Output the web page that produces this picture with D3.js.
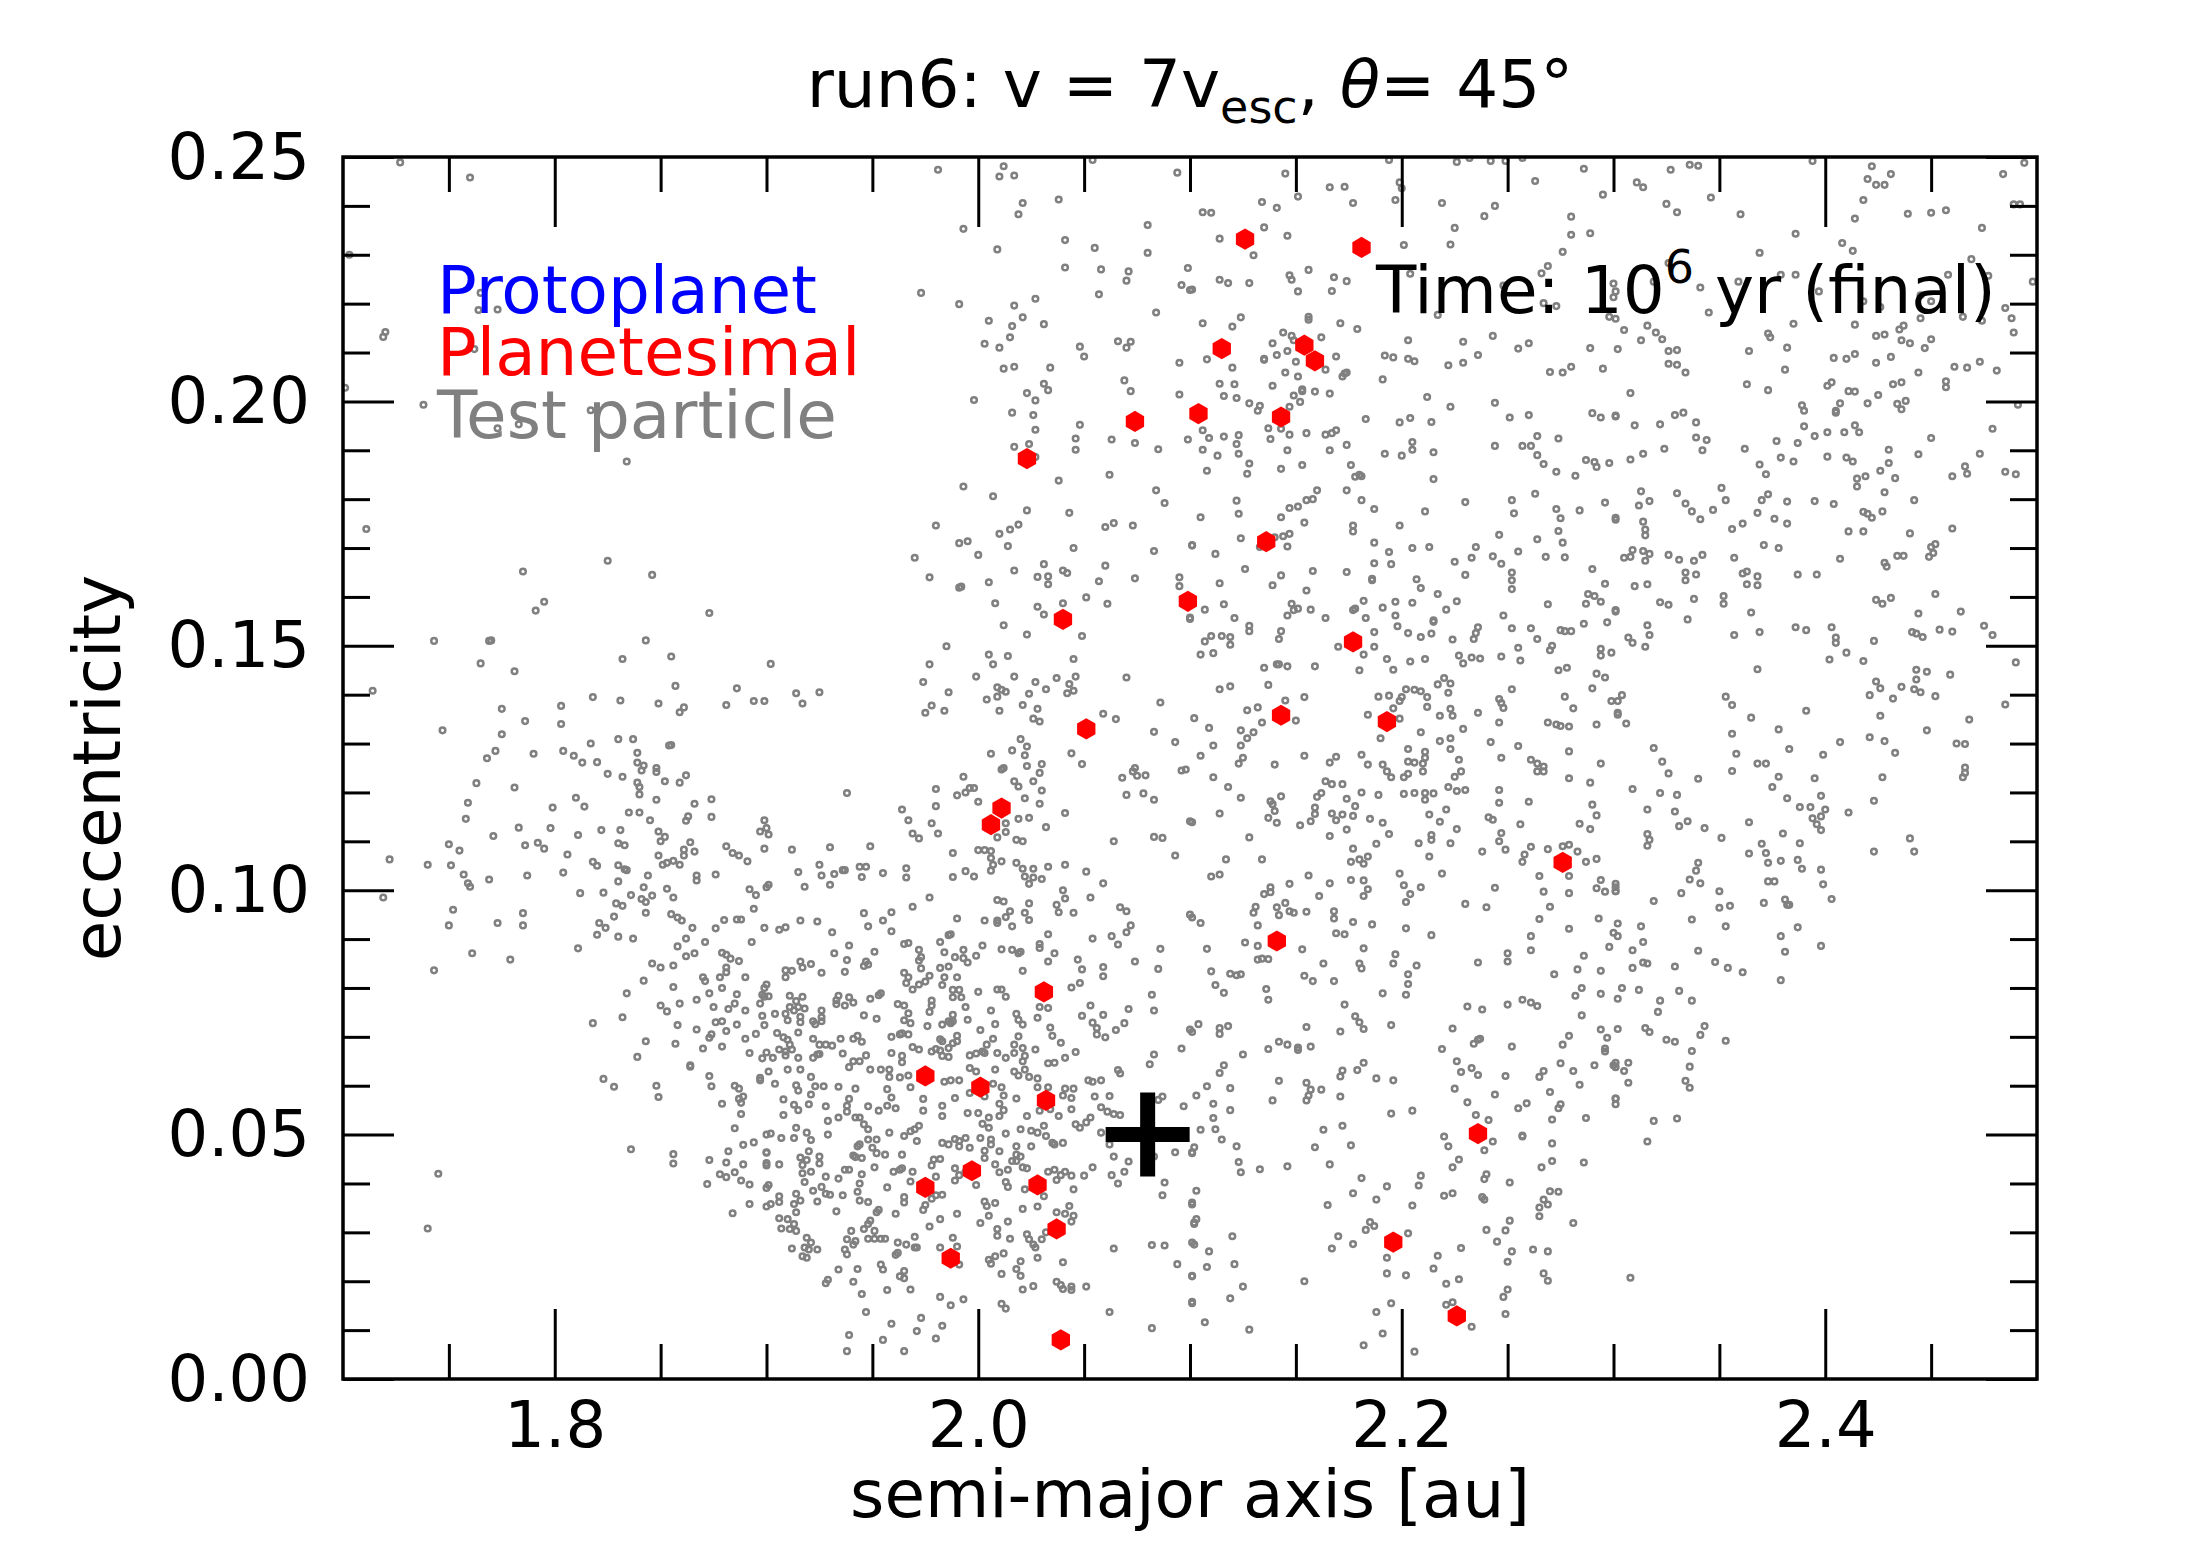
<!DOCTYPE html>
<html>
<head>
<meta charset="utf-8">
<script src="https://cdn.jsdelivr.net/npm/d3@7"></script>
<style>
  body { margin: 0; background: #fff; }
  text { font-family: "DejaVu Sans", sans-serif; }
</style>
</head>
<body>
<div id="chart"></div>
<script>
// ---- data: [semi-major axis (au), eccentricity] ----
var xMajorTicks = [1.8, 2.0, 2.2, 2.4];
var xMinorTicks = [1.75, 1.85, 1.9, 1.95, 2.05, 2.1, 2.15, 2.25, 2.3, 2.35, 2.45];
var yMajorTicks = [0, 0.05, 0.10, 0.15, 0.20, 0.25];
var yMinorTicks = [0.01, 0.02, 0.03, 0.04, 0.06, 0.07, 0.08, 0.09, 0.11, 0.12, 0.13, 0.14,
                   0.16, 0.17, 0.18, 0.19, 0.21, 0.22, 0.23, 0.24];

var legendLabels = ["Protoplanet", "Planetesimal", "Test particle"];

var protoplanets = [[2.08, 0.05]];

var planetesimals = [[2.126,.2332],[2.181,.2315],[2.115,.2108],[2.154,.2115],[2.159,.2083],[2.104,.1975],[2.143,.1968],[2.074,.1959],[2.023,.1883],[2.136,.1713],[2.099,.1591],[2.040,.1554],[2.177,.1508],[2.143,.1358],[2.193,.1345],[2.051,.1330],[2.011,.1168],[2.006,.1134],[2.276,.1057],[2.141,.0896],[2.031,.0792],[1.975,.0620],[2.001,.0597],[2.032,.0570],[2.236,.0502],[1.997,.0426],[1.975,.0392],[2.028,.0397],[2.037,.0307],[1.987,.0247],[2.196,.0280],[2.226,.0129],[2.039,.0080]];

var tpLeftHigh = [[1.727,.2489],[1.760,.2458],[1.703,.230],[1.765,.2222],[1.764,.2187],[1.773,.2188],[1.720,.2142],[1.719,.2132],[1.762,.2107],[1.701,.2028],[1.738,.1993],[1.817,.1982],[1.773,.1945],[1.783,.1953],[1.834,.1877],[1.711,.1739],[1.825,.1674],[1.785,.1652],[1.846,.1645],[1.795,.1590],[1.791,.1572],[1.873,.1567],[1.743,.1510],[1.769,.1510],[1.770,.1511],[1.843,.1511],[1.832,.1473],[1.855,.1478],[1.765,.1464],[1.781,.1448],[1.714,.1408],[1.857,.1418],[1.886,.1413],[1.818,.1395],[1.831,.1388],[1.849,.1382],[1.803,.1377],[1.775,.1371],[1.861,.1374],[1.859,.1364],[1.881,.1379],[1.894,.1387],[1.899,.1387],[1.786,.1346],[1.803,.1340],[1.747,.1327],[1.775,.1319],[1.817,.1300],[1.830,.1309],[1.837,.1309],[1.854,.1296],[1.855,.1297],[1.772,.1285],[1.768,.1270],[1.790,.1279],[1.804,.1285],[1.809,.1275],[1.813,.1261],[1.820,.1262],[1.839,.1281],[1.839,.1261],[1.842,.1255],[1.848,.1250]];

var tpLeftLow = [[1.825,.1238],[1.832,.1232],[1.841,.1245],[1.848,.1242],[1.852,.1223],[1.859,.1220],[1.862,.1235],[1.839,.1220],[1.840,.1211],[1.840,.1196],[1.763,.1219],[1.781,.1210],[1.759,.1179],[1.758,.1146],[1.799,.1169],[1.810,.1189],[1.814,.1171],[1.848,.1185],[1.866,.1177],[1.874,.1186],[1.874,.1150],[1.835,.1159],[1.840,.1159],[1.845,.1143],[1.862,.1142],[1.863,.1151],[1.899,.1143],[1.897,.1120],[1.771,.1111],[1.783,.1128],[1.798,.1127],[1.811,.1113],[1.822,.1123],[1.831,.1123],[1.849,.1120],[1.852,.1109],[1.850,.1100],[1.864,.1098],[1.750,.1094],[1.755,.1081],[1.786,.1092],[1.792,.1097],[1.795,.1085],[1.830,.1096],[1.833,.1092],[1.881,.1090],[1.884,.1076],[1.887,.1071],[1.891,.1059],[1.899,.1085],[1.861,.1083],[1.866,.1079],[1.861,.1071],[1.722,.1063],[1.740,.1052],[1.751,.1051],[1.806,.1073],[1.818,.1058],[1.820,.1050],[1.830,.1051],[1.833,.1043],[1.834,.1041],[1.849,.1071],[1.851,.1052],[1.853,.1056],[1.856,.1060],[1.859,.1052],[1.757,.1032],[1.759,.1014],[1.760,.1007],[1.769,.1022],[1.787,.1030],[1.804,.1036],[1.844,.1030],[1.867,.1030],[1.867,.1020],[1.876,.1032],[1.830,.1018],[1.719,.0985],[1.812,.0994],[1.823,.0995],[1.842,.1006],[1.836,.0990],[1.841,.0982],[1.843,.0976],[1.846,.0989],[1.853,.1003],[1.856,.0985],[1.892,.1002],[1.895,.0990],[1.900,.1006],[1.752,.0960],[1.750,.0928],[1.773,.0933],[1.785,.0953],[1.785,.0928],[1.829,.0973],[1.832,.0968],[1.843,.0954],[1.828,.0946],[1.821,.0933],[1.824,.0923],[1.820,.0909],[1.830,.0905],[1.837,.0901],[1.855,.0951],[1.858,.0944],[1.860,.0938],[1.865,.0923],[1.876,.0922],[1.880,.0939],[1.886,.0940],[1.888,.0940],[1.894,.0962],[1.899,.0923],[1.893,.0894],[1.871,.0894],[1.862,.0901],[1.858,.0885],[1.761,.0871],[1.779,.0858],[1.743,.0836],[1.811,.0881],[1.862,.0865],[1.866,.0871],[1.846,.0850],[1.850,.0842],[1.856,.0846],[1.879,.0872],[1.881,.0868],[1.883,.0860],[1.887,.0855],[1.881,.0842],[1.881,.0832],[1.878,.0822],[1.890,.0822],[1.870,.0822],[1.871,.0814],[1.842,.0815],[1.856,.0802],[1.834,.0789],[1.873,.0789],[1.879,.0800],[1.886,.0787],[1.899,.0800],[1.898,.0786],[1.899,.0782],[1.867,.0776],[1.850,.0764],[1.853,.0752],[1.859,.0768],[1.875,.0761],[1.882,.0757],[1.885,.0768],[1.890,.0754],[1.897,.0768],[1.898,.0743],[1.818,.0728],[1.832,.0740],[1.858,.0724],[1.867,.0715],[1.876,.0730],[1.879,.0732],[1.881,.0712],[1.886,.0725],[1.899,.0724],[1.873,.0698],[1.874,.0705],[1.895,.0706],[1.890,.0696],[1.843,.0691],[1.857,.0686],[1.870,.0676],[1.879,.0680],[1.892,.0667],[1.898,.0656],[1.900,.0668],[1.839,.0659],[1.864,.0642],[1.864,.0639],[1.873,.0620],[1.874,.0599],[1.897,.0616],[1.897,.0611],[1.823,.0614],[1.828,.0598],[1.848,.0600],[1.849,.0577],[1.885,.0600],[1.887,.0594],[1.889,.0578],[1.887,.0573],[1.888,.0565],[1.879,.0563],[1.888,.0542],[1.885,.0513],[1.836,.0470],[1.856,.0460],[1.856,.0441],[1.873,.0448],[1.882,.0466],[1.889,.0479],[1.894,.0484],[1.881,.0443],[1.889,.0439],[1.900,.0463],[1.900,.0437],[1.878,.0419],[1.881,.0413],[1.885,.0423],[1.888,.0406],[1.892,.0398],[1.872,.0399],[1.900,.0391],[1.892,.0358],[1.884,.0339],[1.900,.0353],[1.745,.0420],[1.740,.0308]];

var tpMidHigh = [[1.981,.2474],[2.012,.2481],[2.010,.2460],[2.017,.2462],[2.054,.2494],[2.094,.2468],[2.021,.2406],[2.019,.2383],[2.038,.2413],[1.993,.2353],[2.080,.2361],[2.009,.2311],[2.041,.2330],[2.055,.2314],[2.080,.2304],[2.041,.2274],[2.058,.2270],[2.071,.2266],[2.070,.2247],[2.099,.2273],[2.096,.2238],[2.100,.2228],[1.973,.2222],[1.991,.2199],[2.017,.2196],[2.027,.2210],[2.057,.2219],[2.084,.2182],[2.005,.2165],[2.021,.2172],[2.016,.2154],[2.015,.2131],[2.031,.2158],[2.003,.2118],[2.010,.2110],[2.048,.2112],[2.050,.2092],[2.066,.2123],[2.070,.2110],[2.072,.2122],[2.095,.2079],[2.012,.2067],[2.017,.2071],[2.034,.2069],[1.998,.2003],[2.023,.2017],[2.027,.2002],[2.031,.2036],[2.033,.2023],[2.069,.2043],[2.072,.2021],[2.095,.2014],[2.016,.1977],[2.026,.1972],[2.027,.1942],[2.048,.1952],[2.046,.1924],[2.046,.1901],[2.063,.1922],[2.074,.1915],[2.085,.1902],[2.099,.1922],[2.017,.1907],[2.024,.1913],[2.027,.1886],[1.993,.1826],[2.007,.1806],[2.038,.1838],[2.062,.1850],[2.084,.1818],[2.088,.1792],[2.023,.1777],[2.043,.1772],[1.980,.1746],[2.010,.1729],[2.015,.1738],[2.019,.1748],[2.060,.1743],[2.064,.1751],[2.073,.1746],[1.991,.1710],[1.995,.1714],[2.014,.1704],[2.045,.1700],[2.083,.1694],[2.101,.1705],[1.970,.1680],[2.000,.1686],[1.977,.1640],[1.991,.1619],[1.992,.1621],[2.005,.1630],[2.017,.1654],[2.031,.1667],[2.028,.1641],[2.033,.1642],[2.033,.1626],[2.040,.1654],[2.042,.1649],[2.060,.1664],[2.057,.1632],[2.074,.1638],[2.095,.1640],[2.095,.1622],[2.008,.1587],[2.028,.1580],[2.031,.1564],[2.040,.1587],[2.051,.1599],[2.061,.1586],[2.100,.1555],[2.012,.1542],[2.023,.1523],[2.049,.1520],[1.985,.1499],[1.977,.1462],[2.005,.1482],[2.007,.1462],[2.014,.1479],[2.045,.1473],[1.974,.1426],[1.986,.1405],[1.999,.1437],[2.017,.1437],[2.009,.1415],[2.011,.1410],[2.013,.1406],[2.009,.1396],[2.004,.1390],[2.027,.1426],[2.032,.1411],[2.037,.1434],[2.043,.1422],[2.046,.1437],[2.045,.1408],[2.042,.1403],[2.024,.1402],[2.021,.1379],[2.028,.1371],[2.026,.1351],[2.029,.1345],[2.010,.1367],[1.978,.1378],[1.975,.1363],[1.984,.1367],[2.059,.1361],[2.065,.1350],[2.070,.1435],[2.086,.1384],[2.083,.1324],[2.093,.1303],[2.020,.1309],[2.016,.1286],[2.022,.1276],[2.023,.1294],[2.006,.1279],[2.044,.1280],[2.049,.1258],[2.030,.1258],[2.012,.1250],[2.023,.1254],[2.074,.1250],[2.098,.1247],[1.902,.1463],[1.914,.1403],[1.917,.1382],[1.925,.1405]];

var tpMidUpper = [[1.993,.1232],[2.011,.1247],[2.029,.1240],[2.017,.1223],[2.019,.1212],[2.026,.1223],[2.030,.1204],[2.068,.1230],[2.073,.1243],[2.075,.1234],[2.079,.1235],[2.096,.1245],[1.980,.1207],[1.990,.1194],[1.994,.1200],[1.996,.1209],[1.998,.1209],[1.938,.1199],[2.000,.1181],[2.022,.1188],[2.029,.1177],[2.070,.1195],[2.078,.1198],[2.083,.1185],[1.980,.1172],[1.964,.1165],[1.967,.1143],[1.978,.1137],[1.981,.1116],[1.969,.1116],[1.972,.1106],[2.013,.1137],[2.013,.1119],[2.009,.1108],[2.019,.1146],[2.024,.1148],[2.032,.1129],[2.041,.1158],[2.018,.1103],[2.021,.1100],[2.064,.1100],[2.083,.1109],[2.087,.1107],[2.093,.1071],[2.100,.1141],[1.900,.1127],[1.901,.1114],[1.912,.1083],[1.930,.1088],[1.949,.1090],[1.988,.1076],[2.000,.1082],[2.003,.1082],[2.006,.1080],[2.006,.1066],[2.007,.1052],[2.006,.1040],[2.011,.1059],[2.018,.1056],[2.021,.1044],[2.026,.1044],[2.033,.1048],[2.041,.1052],[1.925,.1052],[1.915,.1037],[1.926,.1030],[1.932,.1033],[1.936,.1041],[1.937,.1041],[1.944,.1048],[1.947,.1048],[1.945,.1027],[1.955,.1035],[1.966,.1045],[1.966,.1026],[1.930,.1011],[1.918,.1007],[1.901,.1011],[1.988,.1027],[1.994,.1039],[1.998,.1028],[2.022,.1028],[2.026,.1026],[2.024,.1013],[2.030,.1023],[2.051,.1038],[2.059,.1014],[2.040,.1000],[2.041,.0983],[2.037,.0970],[2.038,.0955],[2.045,.0954],[2.053,.0985],[2.024,.0973],[2.022,.0954],[2.024,.0939],[2.009,.0980],[2.012,.0977],[2.015,.0957],[2.013,.0945],[2.009,.0938],[2.009,.0933],[2.016,.0926],[2.003,.0938],[1.990,.0942],[1.977,.0985],[1.969,.0966],[1.946,.0953],[1.959,.0955],[1.955,.0938],[1.948,.0926],[1.959,.0916],[1.916,.0938],[1.924,.0936],[1.906,.0919],[1.909,.0924],[1.931,.0914],[2.067,.0965],[2.070,.0957],[2.072,.0928],[2.070,.0914],[2.063,.0906],[2.066,.0889],[2.054,.0901],[2.100,.0950],[2.033,.0910],[2.029,.0890],[2.029,.0882],[2.011,.0879],[2.016,.0878],[2.019,.0871],[2.020,.0874],[2.036,.0871],[2.033,.0854],[2.047,.0858],[2.049,.0838],[2.059,.0843],[2.059,.0824],[2.074,.0854],[2.086,.0880],[2.085,.0839],[2.021,.0835],[2.048,.0810],[2.044,.0801],[2.082,.0786],[2.053,.0764],[2.071,.0757],[2.083,.0754],[2.049,.0743],[2.054,.0729],[2.056,.0718],[2.056,.0705],[2.059,.0745],[2.060,.0699],[2.065,.0714],[2.069,.0728],[2.100,.0715],[2.096,.0676],[2.083,.0664],[2.081,.0644],[2.066,.0632],[2.046,.0669],[2.039,.0688],[2.041,.0657],[2.036,.0647],[2.033,.0646],[2.027,.0674],[2.034,.0719],[2.035,.0702],[2.029,.0761],[2.033,.0759],[2.028,.0739],[2.018,.0747],[2.019,.0735],[2.021,.0725],[2.019,.0701],[2.017,.0684],[2.021,.0677],[2.022,.0661],[2.021,.0650],[2.013,.0657],[2.017,.0667],[2.009,.0797],[2.011,.0797],[2.013,.0782],[2.006,.0754],[2.008,.0726],[2.007,.0696],[2.001,.0714],[2.000,.0792],[2.004,.0684],[2.002,.0670],[2.003,.0667],[2.009,.0667],[1.996,.0662],[1.999,.0666],[1.996,.0636],[1.999,.0629],[2.008,.0633],[2.017,.0629],[2.022,.0633],[1.994,.0761],[1.995,.0735],[1.988,.0796],[1.991,.0796],[1.992,.0781],[1.988,.0781],[1.990,.0822],[1.988,.0745],[1.988,.0732],[1.986,.0732],[1.983,.0725],[1.987,.0728],[1.990,.0702],[1.988,.0687],[1.990,.0691],[1.983,.0691],[1.982,.0672],[1.986,.0677],[1.983,.0661],[1.978,.0670],[1.986,.0659],[1.999,.0866],[2.002,.0887],[1.993,.0878],[1.989,.0863],[1.993,.0861],[1.995,.0852],[1.984,.0873],[1.982,.0894],[1.986,.0908],[1.987,.0910],[1.982,.0841],[1.986,.0844],[1.984,.0822],[1.983,.0806],[1.977,.0825],[1.972,.0878],[1.973,.0863],[1.972,.0856],[1.973,.0840],[1.965,.0890],[1.967,.0892],[1.965,.0831],[1.967,.0822],[1.966,.0810],[1.969,.0797],[1.972,.0807],[1.975,.0813],[1.978,.0774],[1.978,.0764],[1.977,.0751],[1.962,.0767],[1.965,.0764],[1.967,.0748],[1.968,.0728],[1.965,.0734],[1.976,.0722],[1.964,.0707],[1.963,.0705],[1.967,.0705],[1.959,.0700],[1.969,.0679],[1.972,.0674],[1.959,.0667],[1.964,.0661],[1.964,.0648],[1.954,.0789],[1.953,.0785],[1.949,.0778],[1.951,.0874],[1.947,.0854],[1.948,.0848],[1.946,.0845],[1.938,.0857],[1.939,.0887],[1.932,.0871],[1.937,.0833],[1.916,.0854],[1.917,.0842],[1.921,.0849],[1.909,.0836],[1.912,.0835],[1.909,.0822],[1.926,.0831],[1.900,.0807],[1.901,.0783],[1.911,.0784],[1.914,.0773],[1.917,.0782],[1.934,.0784],[1.933,.0775],[1.933,.0767],[1.937,.0764],[1.939,.0781],[1.941,.0770],[1.904,.0747],[1.909,.0747],[1.911,.0761],[1.913,.0754],[1.915,.0761],[1.918,.0758],[1.910,.0734],[1.916,.0741],[1.916,.0730],[1.922,.0732],[1.923,.0726],[1.926,.0754],[1.926,.0740],[1.926,.0732],[1.946,.0744],[1.952,.0737],[1.905,.0708],[1.908,.0699],[1.910,.0694],[1.915,.0709],[1.922,.0696],[1.911,.0684],[1.912,.0674],[1.906,.0674],[1.909,.0670],[1.909,.0662],[1.925,.0684],[1.928,.0684],[1.931,.0682],[1.935,.0696],[1.941,.0696],[1.943,.0702],[1.945,.0690],[1.936,.0666],[1.922,.0657],[1.924,.0664],[1.925,.0665],[1.915,.0657],[1.903,.0657],[1.941,.0650],[1.944,.0650],[1.947,.0662],[1.939,.0638],[1.949,.0633],[1.954,.0633],[1.958,.0633],[1.910,.0633],[1.916,.0633],[1.901,.0629],[1.982,.0695],[1.980,.0675]];

var tpMidLower = [[1.904,.0604],[1.914,.0601],[1.915,.0590],[1.921,.0618],[1.923,.0599],[1.927,.0599],[1.934,.0598],[1.942,.0594],[1.921,.0582],[1.958,.0618],[1.963,.0617],[1.967,.0621],[1.957,.0593],[1.968,.0597],[1.984,.0608],[1.987,.0611],[1.991,.0611],[1.996,.0585],[2.007,.0604],[2.011,.0597],[2.019,.0621],[2.024,.0618],[2.028,.0615],[2.028,.0597],[2.033,.0597],[2.041,.0594],[2.045,.0594],[2.052,.0611],[2.054,.0608],[2.058,.0611],[2.067,.0625],[1.908,.0572],[1.913,.0561],[1.915,.0550],[1.920,.0562],[1.928,.0558],[1.939,.0573],[1.938,.0559],[1.938,.0547],[1.934,.0535],[1.948,.0558],[1.953,.0549],[1.957,.0559],[1.961,.0554],[1.959,.0576],[1.974,.0573],[1.974,.0549],[1.983,.0559],[1.983,.0538],[1.989,.0575],[1.995,.0544],[2.000,.0544],[2.005,.0535],[2.002,.0522],[2.005,.0514],[2.003,.0578],[2.010,.0563],[2.012,.0550],[2.010,.0538],[2.012,.0580],[2.018,.0574],[2.023,.0538],[2.029,.0549],[2.034,.0552],[2.038,.0538],[2.040,.0580],[2.044,.0575],[2.044,.0552],[2.055,.0578],[2.062,.0579],[2.058,.0556],[2.061,.0547],[2.064,.0542],[2.067,.0540],[2.087,.0578],[2.085,.0571],[2.097,.0558],[1.900,.0500],[1.902,.0502],[1.908,.0540],[1.907,.0493],[1.914,.0514],[1.913,.0493],[1.919,.0504],[1.921,.0489],[1.929,.0528],[1.929,.0500],[1.942,.0535],[1.944,.0535],[1.946,.0521],[1.948,.0511],[1.948,.0490],[1.952,.0490],[1.950,.0473],[1.952,.0462],[1.956,.0459],[1.958,.0504],[1.965,.0497],[1.968,.0507],[1.970,.0511],[1.972,.0518],[1.971,.0487],[1.983,.0483],[1.986,.0480],[1.989,.0491],[1.991,.0487],[1.994,.0493],[1.991,.0476],[1.996,.0473],[2.001,.0493],[2.006,.0490],[2.006,.0480],[2.013,.0502],[2.020,.0511],[2.025,.0508],[2.028,.0504],[2.031,.0518],[2.032,.0497],[2.035,.0483],[2.036,.0480],[2.040,.0483],[2.046,.0521],[2.048,.0514],[2.051,.0525],[2.053,.0535],[2.058,.0504],[2.062,.0480],[2.064,.0455],[2.063,.0417],[2.066,.0400],[2.069,.0424],[2.071,.0445],[2.054,.0433],[2.050,.0416],[2.093,.0464],[2.101,.0464],[2.083,.0455],[2.088,.0402],[2.087,.0376],[2.101,.0361],[2.102,.0320],[2.101,.0279],[2.101,.0210],[2.101,.0158],[2.082,.0274],[2.088,.0273],[2.094,.0235],[2.064,.0267],[2.062,.0137],[2.082,.0104],[2.018,.0476],[2.018,.0459],[2.020,.0455],[2.025,.0476],[2.010,.0466],[2.016,.0446],[2.018,.0446],[2.021,.0433],[2.023,.0431],[2.003,.0467],[2.003,.0452],[2.008,.0439],[2.010,.0423],[2.014,.0428],[2.013,.0403],[2.014,.0393],[1.999,.0397],[2.022,.0388],[2.033,.0424],[2.036,.0428],[2.037,.0407],[2.039,.0417],[2.041,.0424],[2.044,.0416],[2.045,.0388],[2.031,.0374],[2.028,.0353],[2.021,.0348],[2.043,.0354],[2.037,.0341],[2.041,.0338],[2.045,.0334],[2.044,.0322],[2.003,.0363],[2.004,.0354],[2.008,.0360],[2.005,.0334],[2.001,.0319],[2.014,.0322],[2.009,.0307],[2.009,.0293],[2.015,.0287],[2.023,.0296],[2.024,.0286],[2.026,.0275],[2.027,.0269],[2.030,.0286],[2.032,.0300],[2.028,.0248],[2.040,.0239],[2.020,.0241],[2.018,.0225],[2.020,.0211],[2.011,.0215],[2.012,.0257],[2.008,.0251],[2.005,.0244],[2.006,.0236],[2.037,.0199],[2.039,.0192],[2.040,.0184],[2.044,.0189],[2.044,.0182],[2.051,.0189],[2.026,.0190],[2.021,.0183],[2.011,.0154],[2.013,.0144],[1.987,.0151],[1.993,.0163],[1.982,.0168],[1.990,.0338],[1.982,.0327],[1.977,.0312],[1.974,.0346],[1.975,.0356],[1.978,.0369],[1.980,.0376],[1.983,.0377],[1.970,.0291],[1.971,.0269],[1.988,.0289],[1.990,.0271],[1.991,.0234],[1.982,.0269],[1.978,.0437],[1.979,.0449],[1.980,.0414],[1.982,.0450],[1.989,.0406],[1.989,.0431],[1.991,.0417],[1.994,.0424],[1.969,.0424],[1.968,.0404],[1.965,.0372],[1.965,.0361],[1.961,.0338],[1.957,.0392],[1.960,.0424],[1.963,.0428],[1.964,.0431],[1.964,.0459],[1.962,.0279],[1.966,.0275],[1.970,.0269],[1.962,.0258],[1.961,.0254],[1.954,.0234],[1.955,.0224],[1.965,.0221],[1.965,.0206],[1.963,.0210],[1.968,.0183],[1.957,.0182],[1.951,.0433],[1.945,.0419],[1.944,.0400],[1.943,.0383],[1.944,.0365],[1.948,.0362],[1.953,.0346],[1.952,.0341],[1.949,.0324],[1.948,.0317],[1.946,.0307],[1.951,.0303],[1.948,.0287],[1.951,.0287],[1.954,.0287],[1.956,.0287],[1.940,.0303],[1.938,.0286],[1.942,.0282],[1.941,.0275],[1.937,.0265],[1.938,.0255],[1.933,.0343],[1.936,.0376],[1.937,.0428],[1.939,.0428],[1.934,.0410],[1.945,.0452],[1.941,.0457],[1.942,.0454],[1.943,.0476],[1.944,.0480],[1.925,.0455],[1.925,.0441],[1.928,.0414],[1.920,.0466],[1.919,.0448],[1.916,.0453],[1.917,.0438],[1.917,.0421],[1.918,.0403],[1.921,.0424],[1.906,.0439],[1.900,.0464],[1.900,.0442],[1.901,.0397],[1.922,.0385],[1.926,.0393],[1.928,.0379],[1.930,.0377],[1.914,.0379],[1.916,.0365],[1.913,.0358],[1.906,.0374],[1.906,.0362],[1.902,.0358],[1.924,.0363],[1.914,.0341],[1.906,.0329],[1.910,.0327],[1.913,.0317],[1.907,.0308],[1.911,.0307],[1.914,.0303],[1.919,.0289],[1.921,.0279],[1.918,.0269],[1.920,.0265],[1.924,.0265],[1.912,.0267],[1.917,.0251],[1.919,.0248],[1.934,.0224],[1.943,.0225],[1.941,.0199],[1.929,.0203],[1.928,.0196],[1.945,.0174],[1.947,.0137],[1.959,.0113],[1.973,.0125],[1.983,.0109],[1.971,.0098],[1.980,.0083],[1.955,.0080],[1.939,.0090],[1.938,.0057],[1.965,.0057]];

var tpRightMidHigh = [[2.145,.2466],[2.151,.2419],[2.134,.2408],[2.141,.2396],[2.106,.2387],[2.110,.2386],[2.135,.2356],[2.114,.2333],[2.146,.2339],[2.130,.2299],[2.166,.2438],[2.173,.2439],[2.177,.2406],[2.194,.2494],[2.199,.2448],[2.200,.2436],[2.197,.2412],[2.226,.2490],[2.232,.2498],[2.242,.2492],[2.249,.2492],[2.257,.2498],[2.263,.2451],[2.286,.2476],[2.295,.2423],[2.219,.2406],[2.239,.2379],[2.244,.2400],[2.280,.2378],[2.225,.2355],[2.280,.2341],[2.289,.2344],[2.201,.2320],[2.223,.2321],[2.276,.2306],[2.266,.2262],[2.269,.2277],[2.204,.2261],[2.248,.2237],[2.300,.2241],[2.300,.2213],[2.267,.2201],[2.273,.2195],[2.298,.2173],[2.301,.2169],[2.217,.2177],[2.114,.2249],[2.118,.2242],[2.128,.2242],[2.147,.2258],[2.148,.2249],[2.151,.2225],[2.156,.2269],[2.168,.2254],[2.174,.2246],[2.167,.2226],[2.101,.2229],[2.106,.2160],[2.120,.2153],[2.124,.2172],[2.156,.2173],[2.156,.2167],[2.171,.2160],[2.179,.2148],[2.144,.2141],[2.148,.2134],[2.149,.2125],[2.139,.2119],[2.162,.2131],[2.108,.2086],[2.120,.2069],[2.135,.2087],[2.135,.2085],[2.141,.2095],[2.146,.2103],[2.150,.2081],[2.164,.2065],[2.169,.2092],[2.172,.2051],[2.173,.2057],[2.174,.2059],[2.191,.2045],[2.192,.2094],[2.196,.2090],[2.203,.2087],[2.206,.2082],[2.203,.2125],[2.229,.2122],[2.222,.2074],[2.229,.2079],[2.236,.2095],[2.243,.2134],[2.255,.2108],[2.260,.2119],[2.270,.2060],[2.276,.2059],[2.280,.2071],[2.289,.2109],[2.295,.2067],[2.114,.2036],[2.121,.2035],[2.116,.2011],[2.122,.2007],[2.128,.1996],[2.133,.1991],[2.132,.1981],[2.139,.2032],[2.145,.2059],[2.151,.2051],[2.149,.2012],[2.153,.2021],[2.153,.2025],[2.152,.1999],[2.159,.2020],[2.166,.2016],[2.147,.1989],[2.183,.1964],[2.199,.1957],[2.204,.1966],[2.214,.1958],[2.212,.2009],[2.223,.1989],[2.244,.1997],[2.251,.1967],[2.260,.1972],[2.290,.1976],[2.294,.1967],[2.301,.1971],[2.106,.1941],[2.109,.1925],[2.116,.1928],[2.123,.1931],[2.122,.1913],[2.123,.1893],[2.106,.1901],[2.113,.1889],[2.108,.1858],[2.128,.1873],[2.127,.1852],[2.137,.1945],[2.138,.1923],[2.143,.1944],[2.147,.1932],[2.146,.1900],[2.155,.1935],[2.143,.1862],[2.153,.1870],[2.164,.1932],[2.167,.1935],[2.169,.1941],[2.166,.1900],[2.174,.1911],[2.192,.1893],[2.200,.1889],[2.205,.1901],[2.205,.1917],[2.215,.1896],[2.176,.1870],[2.178,.1846],[2.180,.1850],[2.181,.1847],[2.215,.1841],[2.244,.1909],[2.257,.1909],[2.261,.1909],[2.264,.1929],[2.274,.1924],[2.264,.1890],[2.267,.1872],[2.273,.1856],[2.282,.1848],[2.287,.1880],[2.291,.1876],[2.292,.1866],[2.298,.1874],[2.105,.1763],[2.122,.1797],[2.123,.1770],[2.143,.1763],[2.147,.1782],[2.151,.1785],[2.154,.1752],[2.155,.1798],[2.158,.1800],[2.160,.1818],[2.174,.1818],[2.181,.1798],[2.187,.1780],[2.177,.1746],[2.177,.1734],[2.199,.1746],[2.211,.1775],[2.230,.1794],[2.252,.1798],[2.253,.1771],[2.263,.1811],[2.273,.1780],[2.275,.1761],[2.284,.1777],[2.296,.1793],[2.301,.1758],[2.124,.1720],[2.133,.1702],[2.140,.1722],[2.144,.1724],[2.147,.1729],[2.146,.1703],[2.101,.1706],[2.112,.1688],[2.126,.1657],[2.114,.1628],[2.139,.1624],[2.143,.1644],[2.158,.1653],[2.155,.1613],[2.174,.1651],[2.187,.1711],[2.194,.1692],[2.195,.1667],[2.187,.1669],[2.186,.1634],[2.186,.1637],[2.205,.1700],[2.213,.1702],[2.225,.1672],[2.230,.1645],[2.233,.1680],[2.235,.1702],[2.243,.1683],[2.247,.1668],[2.246,.1727],[2.252,.1650],[2.252,.1634],[2.252,.1616],[2.255,.1693],[2.264,.1718],[2.268,.1682],[2.274,.1735],[2.276,.1711],[2.277,.1681],[2.290,.1657],[2.296,.1627],[2.207,.1636],[2.209,.1618],[2.217,.1606],[2.100,.1558],[2.107,.1574],[2.116,.1585],[2.121,.1557],[2.128,.1541],[2.128,.1530],[2.107,.1509],[2.110,.1520],[2.115,.1520],[2.119,.1518],[2.119,.1502],[2.105,.1482],[2.111,.1485],[2.143,.1530],[2.142,.1514],[2.148,.1586],[2.149,.1573],[2.151,.1576],[2.146,.1562],[2.157,.1574],[2.164,.1557],[2.177,.1573],[2.178,.1576],[2.182,.1592],[2.183,.1557],[2.191,.1578],[2.197,.1590],[2.197,.1562],[2.198,.1540],[2.203,.1526],[2.205,.1588],[2.215,.1549],[2.215,.1552],[2.214,.1525],[2.209,.1518],[2.221,.1574],[2.226,.1591],[2.187,.1528],[2.187,.1498],[2.182,.1482],[2.170,.1498],[2.180,.1450],[2.135,.1455],[2.141,.1462],[2.142,.1462],[2.146,.1458],[2.159,.1458],[2.137,.1420],[2.114,.1411],[2.119,.1417],[2.193,.1473],[2.196,.1451],[2.204,.1468],[2.211,.1473],[2.224,.1513],[2.227,.1480],[2.229,.1464],[2.233,.1476],[2.237,.1474],[2.234,.1514],[2.235,.1526],[2.236,.1538],[2.247,.1478],[2.248,.1562],[2.252,.1536],[2.261,.1536],[2.264,.1514],[2.255,.1496],[2.256,.1470],[2.269,.1585],[2.271,.1500],[2.270,.1491],[2.275,.1532],[2.277,.1530],[2.280,.1530],[2.286,.1545],[2.287,.1586],[2.288,.1606],[2.291,.1602],[2.294,.1590],[2.297,.1548],[2.301,.1573],[2.294,.1494],[2.294,.1480],[2.299,.1486],[2.274,.1450],[2.278,.1455],[2.292,.1443],[2.296,.1435],[2.290,.1413],[2.277,.1396],[2.281,.1372],[2.299,.1387],[2.302,.1359],[2.269,.1343],[2.273,.1339],[2.275,.1336],[2.279,.1335],[2.292,.1339],[2.279,.1284],[2.252,.1411],[2.246,.1391],[2.247,.1383],[2.248,.1373],[2.246,.1343],[2.236,.1363],[2.242,.1303],[2.255,.1295],[2.261,.1267],[2.264,.1259],[2.267,.1253],[2.247,.1271],[2.217,.1421],[2.220,.1434],[2.223,.1423],[2.222,.1404],[2.218,.1357],[2.223,.1371],[2.224,.1357],[2.229,.1330],[2.218,.1305],[2.223,.1311],[2.223,.1289],[2.227,.1267],[2.202,.1411],[2.200,.1395],[2.199,.1387],[2.206,.1410],[2.209,.1407],[2.212,.1395],[2.212,.1375],[2.189,.1396],[2.194,.1398],[2.196,.1372],[2.199,.1351],[2.184,.1359],[2.190,.1311],[2.209,.1323],[2.203,.1289],[2.211,.1283],[2.211,.1271],[2.203,.1263],[2.206,.1261],[2.210,.1259],[2.181,.1277],[2.184,.1257],[2.191,.1257],[2.169,.1273],[2.166,.1261],[2.154,.1275],[2.150,.1347],[2.154,.1395],[2.145,.1388],[2.132,.1374],[2.127,.1368],[2.134,.1343],[2.130,.1323],[2.127,.1311],[2.124,.1296],[2.124,.1327],[2.109,.1332],[2.102,.1352],[2.111,.1296],[2.105,.1275],[2.125,.1271],[2.123,.1259],[2.140,.1257],[2.294,.1259]];

var tpRightMidLow = [[2.111,.1231],[2.118,.1211],[2.124,.1189],[2.114,.1157],[2.101,.1139],[2.128,.1108],[2.138,.1182],[2.139,.1176],[2.140,.1162],[2.137,.1148],[2.141,.1138],[2.143,.1192],[2.152,.1133],[2.157,.1141],[2.159,.1169],[2.159,.1156],[2.160,.1191],[2.162,.1199],[2.164,.1223],[2.167,.1217],[2.172,.1217],[2.174,.1187],[2.178,.1172],[2.181,.1200],[2.167,.1157],[2.169,.1143],[2.172,.1155],[2.177,.1152],[2.174,.1124],[2.166,.1111],[2.185,.1146],[2.191,.1138],[2.189,.1195],[2.194,.1115],[2.188,.1095],[2.195,.1231],[2.193,.1243],[2.201,.1231],[2.203,.1238],[2.210,.1243],[2.201,.1197],[2.206,.1199],[2.211,.1199],[2.211,.1185],[2.215,.1198],[2.213,.1155],[2.218,.1140],[2.221,.1165],[2.222,.1211],[2.226,.1203],[2.230,.1205],[2.225,.1232],[2.228,.1243],[2.226,.1125],[2.214,.1113],[2.214,.1103],[2.208,.1096],[2.223,.1096],[2.213,.1069],[2.177,.1085],[2.176,.1058],[2.180,.1063],[2.182,.1054],[2.184,.1069],[2.176,.1021],[2.182,.1020],[2.184,.1002],[2.182,.0988],[2.166,.1014],[2.156,.1030],[2.147,.1013],[2.161,.0988],[2.117,.1063],[2.134,.1063],[2.110,.1028],[2.114,.1032],[2.135,.0992],[2.138,.1006],[2.138,.0996],[2.131,.0966],[2.130,.0954],[2.141,.0965],[2.142,.0949],[2.145,.0974],[2.147,.0957],[2.149,.0954],[2.155,.0956],[2.168,.0957],[2.168,.0942],[2.177,.0935],[2.186,.0930],[2.169,.0912],[2.173,.0910],[2.101,.0944],[2.105,.0933],[2.132,.0928],[2.108,.0880],[2.126,.0893],[2.132,.0886],[2.132,.0858],[2.134,.0860],[2.137,.0859],[2.153,.0879],[2.163,.0850],[2.180,.0850],[2.181,.0840],[2.182,.0881],[2.197,.0869],[2.196,.0850],[2.207,.0846],[2.203,.0828],[2.203,.0808],[2.202,.0786],[2.202,.0922],[2.201,.1010],[2.204,.0992],[2.202,.0976],[2.199,.1034],[2.209,.1006],[2.219,.1034],[2.214,.0908],[2.230,.0972],[2.240,.0965],[2.238,.1079],[2.244,.1005],[2.241,.1149],[2.243,.1144],[2.246,.1179],[2.246,.1205],[2.247,.1117],[2.246,.1100],[2.249,.1083],[2.256,.1135],[2.260,.1181],[2.258,.1073],[2.257,.1058],[2.261,.1089],[2.269,.1084],[2.265,.1029],[2.267,.0997],[2.270,.0966],[2.265,.0941],[2.261,.0906],[2.261,.0877],[2.250,.0871],[2.250,.0854],[2.236,.0852],[2.276,.1090],[2.279,.1093],[2.283,.1079],[2.279,.1029],[2.279,.0994],[2.287,.1058],[2.292,.1064],[2.284,.1136],[2.289,.1125],[2.290,.1175],[2.292,.1153],[2.289,.1220],[2.279,.1229],[2.264,.1243],[2.267,.1243],[2.294,.1021],[2.292,.1004],[2.296,.0997],[2.301,.1013],[2.301,.0998],[2.293,.0942],[2.279,.0921],[2.300,.0913],[2.298,.0884],[2.286,.0866],[2.283,.0838],[2.294,.0835],[2.272,.0828],[2.282,.0784],[2.285,.0800],[2.294,.0788],[2.285,.0744],[2.294,.0715],[2.297,.0698],[2.296,.0676],[2.296,.0670],[2.301,.0638],[2.300,.0642],[2.279,.0702],[2.276,.0684],[2.275,.0646],[2.281,.0630],[2.291,.0642],[2.284,.0602],[2.267,.0630],[2.265,.0618],[2.270,.0587],[2.275,.0562],[2.274,.0554],[2.271,.0531],[2.287,.0534],[2.301,.0562],[2.301,.0574],[2.271,.0482],[2.271,.0446],[2.266,.0433],[2.286,.0443],[2.270,.0384],[2.274,.0383],[2.267,.0367],[2.269,.0357],[2.265,.0351],[2.265,.0333],[2.281,.0319],[2.251,.0324],[2.249,.0304],[2.240,.0305],[2.245,.0281],[2.252,.0261],[2.250,.0240],[2.262,.0265],[2.269,.0261],[2.267,.0216],[2.269,.0201],[2.250,.0183],[2.248,.0168],[2.249,.0133],[2.233,.0107],[2.221,.0152],[2.224,.0157],[2.221,.0195],[2.227,.0204],[2.215,.0226],[2.217,.0252],[2.228,.0268],[2.238,.0372],[2.239,.0367],[2.251,.0402],[2.239,.0409],[2.240,.0419],[2.224,.0433],[2.227,.0449],[2.220,.0375],[2.224,.0380],[2.209,.0416],[2.208,.0396],[2.205,.0355],[2.203,.0298],[2.193,.0394],[2.188,.0367],[2.185,.0321],[2.187,.0313],[2.183,.0305],[2.181,.0411],[2.177,.0380],[2.177,.0276],[2.170,.0292],[2.167,.0267],[2.165,.0356],[2.193,.0248],[2.193,.0216],[2.202,.0212],[2.195,.0155],[2.188,.0137],[2.191,.0093],[2.182,.0069],[2.206,.0056],[2.154,.0200],[2.125,.0189],[2.119,.0165],[2.121,.0235],[2.108,.0229],[2.101,.0211],[2.109,.0261],[2.102,.0275],[2.120,.0292],[2.103,.0327],[2.102,.0317],[2.101,.0357],[2.103,.0385],[2.101,.0155],[2.107,.0116],[2.128,.0101],[2.133,.0429],[2.124,.0423],[2.123,.0444],[2.122,.0476],[2.115,.0490],[2.146,.0435],[2.159,.0474],[2.166,.0439],[2.163,.0510],[2.172,.0518],[2.176,.0478],[2.105,.0510],[2.112,.0511],[2.111,.0534],[2.102,.0474],[2.101,.0462],[2.111,.0563],[2.119,.0550],[2.119,.0595],[2.108,.0599],[2.103,.0580],[2.114,.0626],[2.116,.0642],[2.139,.0570],[2.142,.0610],[2.155,.0606],[2.157,.0592],[2.156,.0580],[2.155,.0570],[2.162,.0592],[2.171,.0578],[2.171,.0619],[2.172,.0631],[2.179,.0632],[2.182,.0647],[2.188,.0615],[2.196,.0611],[2.195,.0543],[2.205,.0549],[2.225,.0594],[2.226,.0650],[2.228,.0628],[2.233,.0636],[2.236,.0622],[2.231,.0566],[2.235,.0540],[2.241,.0530],[2.244,.0582],[2.249,.0620],[2.255,.0554],[2.259,.0564],[2.257,.0498],[2.257,.0496],[2.243,.0486],[2.239,.0468],[2.220,.0496],[2.222,.0476],[2.219,.0675],[2.224,.0717],[2.234,.0686],[2.236,.0694],[2.237,.0696],[2.252,.0680],[2.231,.0762],[2.238,.0756],[2.250,.0766],[2.257,.0776],[2.261,.0770],[2.264,.0763],[2.195,.0724],[2.191,.0789],[2.178,.0742],[2.180,.0730],[2.182,.0716],[2.173,.0766],[2.171,.0711],[2.155,.0720],[2.142,.0690],[2.146,.0684],[2.151,.0678],[2.151,.0673],[2.157,.0680],[2.137,.0675],[2.125,.0664],[2.104,.0726],[2.101,.0710],[2.114,.0706],[2.114,.0718],[2.118,.0722],[2.136,.0798],[2.137,.0776],[2.116,.0790],[2.112,.0806],[2.110,.0834],[2.119,.0829],[2.122,.0826],[2.124,.0828],[2.154,.0825],[2.158,.0814],[2.168,.0814]];

var tpRightHigh = [[2.327,.2474],[2.336,.2484],[2.340,.2482],[2.311,.2448],[2.314,.2438],[2.346,.2417],[2.325,.2404],[2.330,.2387],[2.360,.2383],[2.394,.2492],[2.422,.2481],[2.431,.2465],[2.420,.2455],[2.424,.2443],[2.428,.2443],[2.418,.2412],[2.414,.2374],[2.439,.2384],[2.450,.2386],[2.457,.2391],[2.484,.2465],[2.494,.2488],[2.474,.2355],[2.489,.2403],[2.492,.2403],[2.386,.2343],[2.369,.2304],[2.408,.2324],[2.413,.2308],[2.326,.2283],[2.319,.2245],[2.301,.2225],[2.341,.2233],[2.345,.2182],[2.359,.2245],[2.379,.2259],[2.386,.2259],[2.397,.2225],[2.469,.2291],[2.458,.2259],[2.477,.2257],[2.498,.2245],[2.445,.2217],[2.450,.2205],[2.418,.2205],[2.426,.2193],[2.465,.2173],[2.474,.2165],[2.485,.2191],[2.488,.2170],[2.489,.2141],[2.445,.2170],[2.414,.2157],[2.385,.2159],[2.305,.2146],[2.302,.2107],[2.313,.2125],[2.316,.2155],[2.320,.2141],[2.323,.2127],[2.326,.2103],[2.330,.2105],[2.326,.2077],[2.330,.2075],[2.334,.2059],[2.373,.2139],[2.374,.2131],[2.364,.2103],[2.382,.2110],[2.381,.2065],[2.363,.2035],[2.373,.2023],[2.308,.2017],[2.404,.2089],[2.410,.2087],[2.414,.2097],[2.424,.2079],[2.431,.2091],[2.424,.2134],[2.428,.2137],[2.435,.2147],[2.437,.2155],[2.436,.2125],[2.440,.2119],[2.447,.2109],[2.450,.2127],[2.444,.2059],[2.461,.2071],[2.467,.2069],[2.473,.2081],[2.481,.2063],[2.457,.2041],[2.457,.2029],[2.401,.2032],[2.403,.2039],[2.411,.2021],[2.414,.2020],[2.420,.1996],[2.425,.2013],[2.432,.2035],[2.436,.2039],[2.434,.1995],[2.438,.2001],[2.436,.1984],[2.389,.1992],[2.390,.1981],[2.405,.1981],[2.407,.1996],[2.405,.1977],[2.491,.1993],[2.310,.1951],[2.322,.1953],[2.329,.1972],[2.333,.1977],[2.339,.1957],[2.339,.1926],[2.344,.1921],[2.342,.1900],[2.301,.1969],[2.324,.1903],[2.308,.1881],[2.314,.1893],[2.390,.1949],[2.387,.1915],[2.395,.1929],[2.401,.1937],[2.409,.1937],[2.414,.1951],[2.416,.1937],[2.377,.1919],[2.362,.1903],[2.379,.1885],[2.385,.1877],[2.401,.1887],[2.410,.1885],[2.413,.1877],[2.369,.1871],[2.372,.1851],[2.450,.1925],[2.479,.1944],[2.430,.1901],[2.430,.1874],[2.444,.1892],[2.426,.1858],[2.419,.1847],[2.415,.1842],[2.415,.1826],[2.433,.1843],[2.473,.1893],[2.466,.1867],[2.467,.1852],[2.460,.1847],[2.485,.1856],[2.490,.1851],[2.428,.1814],[2.442,.1798],[2.460,.1740],[2.427,.1775],[2.418,.1774],[2.420,.1770],[2.422,.1762],[2.411,.1734],[2.418,.1734],[2.440,.1730],[2.450,.1702],[2.452,.1708],[2.451,.1690],[2.449,.1682],[2.434,.1684],[2.437,.1684],[2.428,.1670],[2.429,.1662],[2.407,.1678],[2.387,.1646],[2.396,.1646],[2.382,.1795],[2.395,.1796],[2.404,.1790],[2.370,.1798],[2.373,.1810],[2.368,.1772],[2.376,.1760],[2.382,.1750],[2.356,.1739],[2.361,.1750],[2.371,.1706],[2.378,.1700],[2.357,.1680],[2.361,.1648],[2.363,.1652],[2.363,.1626],[2.368,.1642],[2.368,.1624],[2.351,.1823],[2.353,.1798],[2.347,.1778],[2.330,.1812],[2.334,.1791],[2.337,.1775],[2.341,.1759],[2.313,.1816],[2.312,.1787],[2.317,.1796],[2.314,.1754],[2.315,.1738],[2.315,.1726],[2.301,.1762],[2.305,.1680],[2.308,.1682],[2.309,.1696],[2.314,.1694],[2.315,.1674],[2.317,.1688],[2.326,.1686],[2.331,.1676],[2.338,.1674],[2.342,.1686],[2.334,.1650],[2.334,.1634],[2.339,.1646],[2.310,.1622],[2.316,.1626],[2.322,.1589],[2.326,.1584],[2.338,.1596],[2.335,.1554],[2.352,.1602],[2.352,.1586],[2.365,.1568],[2.301,.1570],[2.316,.1542],[2.317,.1522],[2.307,.1517],[2.309,.1506],[2.315,.1498],[2.357,.1522],[2.369,.1528],[2.386,.1538],[2.391,.1532],[2.403,.1538],[2.405,.1517],[2.405,.1506],[2.410,.1486],[2.402,.1472],[2.418,.1469],[2.423,.1510],[2.424,.1594],[2.427,.1586],[2.431,.1598],[2.444,.1566],[2.452,.1606],[2.464,.1570],[2.441,.1528],[2.443,.1525],[2.446,.1518],[2.454,.1533],[2.460,.1529],[2.475,.1541],[2.479,.1522],[2.490,.1466],[2.368,.1452],[2.443,.1451],[2.448,.1447],[2.443,.1431],[2.442,.1411],[2.445,.1405],[2.459,.1441],[2.436,.1416],[2.432,.1392],[2.424,.1427],[2.426,.1413],[2.421,.1399],[2.452,.1397],[2.485,.1380],[2.304,.1399],[2.302,.1387],[2.302,.1363],[2.306,.1341],[2.353,.1396],[2.356,.1379],[2.365,.1353],[2.391,.1367],[2.426,.1357],[2.378,.1329],[2.356,.1320],[2.319,.1291],[2.323,.1263],[2.358,.1279],[2.368,.1259],[2.372,.1259],[2.383,.1289],[2.399,.1277],[2.407,.1303],[2.421,.1313],[2.428,.1305],[2.433,.1281],[2.448,.1327],[2.468,.1349],[2.462,.1300],[2.466,.1299],[2.466,.1251]];

var tpRightLow = [[2.326,.1239],[2.340,.1228],[2.356,.1244],[2.378,.1232],[2.395,.1229],[2.427,.1231],[2.465,.1231],[2.466,.1240],[2.309,.1207],[2.322,.1199],[2.330,.1195],[2.316,.1165],[2.329,.1161],[2.331,.1131],[2.335,.1141],[2.343,.1127],[2.316,.1115],[2.317,.1103],[2.316,.1091],[2.351,.1107],[2.364,.1139],[2.375,.1211],[2.382,.1188],[2.388,.1170],[2.393,.1170],[2.398,.1193],[2.400,.1165],[2.398,.1151],[2.394,.1147],[2.396,.1135],[2.398,.1123],[2.411,.1159],[2.423,.1183],[2.380,.1116],[2.388,.1096],[2.370,.1095],[2.372,.1076],[2.373,.1056],[2.364,.1075],[2.379,.1060],[2.387,.1062],[2.389,.1044],[2.398,.1042],[2.423,.1079],[2.440,.1106],[2.442,.1079],[2.340,.1056],[2.339,.1040],[2.336,.1022],[2.341,.1014],[2.332,.0994],[2.319,.0978],[2.301,.1006],[2.301,.0998],[2.350,.0998],[2.350,.0964],[2.355,.0968],[2.373,.1018],[2.376,.1018],[2.371,.0974],[2.381,.0981],[2.382,.0970],[2.383,.0970],[2.399,.1012],[2.403,.0982],[2.337,.0940],[2.302,.0932],[2.302,.0906],[2.313,.0926],[2.314,.0894],[2.309,.0877],[2.353,.0926],[2.387,.0924],[2.379,.0906],[2.381,.0874],[2.398,.0886],[2.340,.0876],[2.309,.0841],[2.314,.0852],[2.316,.0850],[2.329,.0844],[2.348,.0853],[2.354,.0841],[2.361,.0832],[2.379,.0816],[2.304,.0800],[2.302,.0778],[2.312,.0796],[2.322,.0774],[2.321,.0751],[2.331,.0794],[2.337,.0774],[2.302,.0716],[2.315,.0718],[2.317,.0710],[2.325,.0694],[2.329,.0690],[2.341,.0704],[2.343,.0722],[2.337,.0671],[2.353,.0692],[2.301,.0647],[2.307,.0647],[2.305,.0630],[2.307,.0606],[2.336,.0639],[2.334,.0610],[2.336,.0596],[2.301,.0574],[2.319,.0528],[2.330,.0533],[2.316,.0486],[2.308,.0207]];

var testParticles = [].concat(tpLeftHigh, tpLeftLow, tpMidHigh, tpMidUpper, tpMidLower,
                              tpRightMidHigh, tpRightMidLow, tpRightHigh, tpRightLow);

// ---- layout ----
var svgWidth = 2188;
var svgHeight = 1563;

var margin = {
    top: 157,
    right: 151,
    bottom: 184,
    left: 343
};

var width = svgWidth - margin.left - margin.right;
var height = svgHeight - margin.top - margin.bottom;

var svg = d3.select("#chart")
    .append("svg")
    .attr("width", svgWidth)
    .attr("height", svgHeight)
    .style("background", "#fff");

svg.append("defs").append("clipPath")
    .attr("id", "plotClip")
    .append("rect")
    .attr("width", width)
    .attr("height", height);

var chartGroup = svg.append("g")
    .attr("transform", `translate(${margin.left}, ${margin.top})`);

var xLinearScale = d3.scaleLinear()
    .domain([1.7, 2.5])
    .range([0, width]);

var yLinearScale = d3.scaleLinear()
    .domain([0, 0.25])
    .range([height, 0]);

var colorByKind = d3.scaleOrdinal()
    .domain(legendLabels)
    .range(["#0000ff", "#ff0000", "#808080"]);

// matplotlib-style 'h' marker (pointy top hexagon)
var hexagon = {
    draw: function(context, size) {
        var r = Math.sqrt(size);
        for (var i = 0; i < 6; i++) {
            var ang = -Math.PI / 2 + i * Math.PI / 3;
            if (i === 0) context.moveTo(r * Math.cos(ang), r * Math.sin(ang));
            else context.lineTo(r * Math.cos(ang), r * Math.sin(ang));
        }
        context.closePath();
    }
};

// ---- marks ----
var markGroup = chartGroup.append("g").attr("clip-path", "url(#plotClip)");

markGroup.selectAll("circle.tp")
    .data(testParticles)
    .enter()
    .append("circle")
    .attr("class", "tp")
    .attr("cx", d => xLinearScale(d[0]))
    .attr("cy", d => yLinearScale(d[1]))
    .attr("r", 2.8)
    .attr("fill", "none")
    .attr("stroke", colorByKind("Test particle"))
    .attr("stroke-width", 2.5);

markGroup.selectAll("path.pl")
    .data(planetesimals)
    .enter()
    .append("path")
    .attr("class", "pl")
    .attr("transform", d => `translate(${xLinearScale(d[0])}, ${yLinearScale(d[1])})`)
    .attr("d", d3.symbol().type(hexagon).size(112))
    .attr("fill", colorByKind("Planetesimal"));

var plusGroup = markGroup.selectAll("g.pp")
    .data(protoplanets)
    .enter()
    .append("g")
    .attr("class", "pp")
    .attr("transform", d => `translate(${xLinearScale(d[0])}, ${yLinearScale(d[1])})`);
plusGroup.append("line").attr("x1", -42).attr("x2", 42).attr("y1", 0).attr("y2", 0)
    .attr("stroke", "#000").attr("stroke-width", 15);
plusGroup.append("line").attr("x1", 0).attr("x2", 0).attr("y1", -42).attr("y2", 42)
    .attr("stroke", "#000").attr("stroke-width", 15);

// ---- axes (inward ticks on all four sides) ----
function styleAxis(g, fontSize) {
    g.select(".domain").remove();
    g.selectAll(".tick line").attr("stroke", "#000").attr("stroke-width", 3);
    g.attr("font-family", "DejaVu Sans").attr("font-size", fontSize);
    g.selectAll(".tick text").attr("fill", "#000");
}

chartGroup.append("g")
    .attr("transform", `translate(0, ${height})`)
    .call(d3.axisBottom(xLinearScale).tickValues(xMajorTicks).tickSize(-70).tickSizeOuter(0)
        .tickFormat(d3.format(".1f")))
    .call(g => styleAxis(g, 64))
    .call(g => g.selectAll(".tick text").attr("y", 68).attr("dy", null));

chartGroup.append("g")
    .attr("transform", `translate(0, ${height})`)
    .call(d3.axisBottom(xLinearScale).tickValues(xMinorTicks).tickSize(-35).tickSizeOuter(0).tickFormat(""))
    .call(g => styleAxis(g, 10));

chartGroup.append("g")
    .call(d3.axisTop(xLinearScale).tickValues(xMajorTicks).tickSize(-70).tickSizeOuter(0).tickFormat(""))
    .call(g => styleAxis(g, 10));

chartGroup.append("g")
    .call(d3.axisTop(xLinearScale).tickValues(xMinorTicks).tickSize(-35).tickSizeOuter(0).tickFormat(""))
    .call(g => styleAxis(g, 10));

chartGroup.append("g")
    .call(d3.axisLeft(yLinearScale).tickValues(yMajorTicks).tickSize(-51).tickSizeOuter(0).tickPadding(33)
        .tickFormat(d3.format(".2f")))
    .call(g => styleAxis(g, 64))
    .call(g => g.selectAll(".tick text").attr("dy", "0.33em"));

chartGroup.append("g")
    .call(d3.axisLeft(yLinearScale).tickValues(yMinorTicks).tickSize(-27).tickSizeOuter(0).tickFormat(""))
    .call(g => styleAxis(g, 10));

chartGroup.append("g")
    .attr("transform", `translate(${width}, 0)`)
    .call(d3.axisRight(yLinearScale).tickValues(yMajorTicks).tickSize(-51).tickSizeOuter(0).tickFormat(""))
    .call(g => styleAxis(g, 10));

chartGroup.append("g")
    .attr("transform", `translate(${width}, 0)`)
    .call(d3.axisRight(yLinearScale).tickValues(yMinorTicks).tickSize(-27).tickSizeOuter(0).tickFormat(""))
    .call(g => styleAxis(g, 10));

// frame
chartGroup.append("rect")
    .attr("width", width)
    .attr("height", height)
    .attr("fill", "none")
    .attr("stroke", "#000")
    .attr("stroke-width", 3.5);

// ---- texts ----
var legendGroup = svg.append("g");
legendGroup.selectAll("text")
    .data(legendLabels)
    .enter()
    .append("text")
    .attr("x", 437)
    .attr("y", (d, i) => 312.5 + i * 62.5)
    .attr("font-size", 66)
    .attr("fill", d => colorByKind(d))
    .text(d => d);

var timeText = svg.append("text")
    .attr("x", 1376)
    .attr("y", 312.5)
    .attr("font-size", 66)
    .style("white-space", "pre")
    .attr("fill", "#000");
timeText.append("tspan").text("Time: 10");
timeText.append("tspan").attr("font-size", 46).attr("dy", -30).text("6");
timeText.append("tspan").attr("dy", 30).text(" yr (final)");

var title = svg.append("text")
    .attr("x", margin.left + width / 2)
    .attr("y", 107)
    .attr("text-anchor", "middle")
    .attr("font-size", 66)
    .style("white-space", "pre")
    .attr("fill", "#000");
title.append("tspan").text("run6: v = 7v");
title.append("tspan").attr("font-size", 46).attr("dy", 16).text("esc");
title.append("tspan").attr("dy", -16).text(", ");
title.append("tspan").attr("font-style", "italic").text("θ");
title.append("tspan").text("= 45°");

svg.append("text")
    .attr("x", margin.left + width / 2)
    .attr("y", 1517)
    .attr("text-anchor", "middle")
    .attr("font-size", 66)
    .attr("fill", "#000")
    .text("semi-major axis [au]");

svg.append("text")
    .attr("transform", `translate(120, ${margin.top + height / 2}) rotate(-90)`)
    .attr("text-anchor", "middle")
    .attr("font-size", 66)
    .attr("fill", "#000")
    .text("eccentricity");
</script>
</body>
</html>
